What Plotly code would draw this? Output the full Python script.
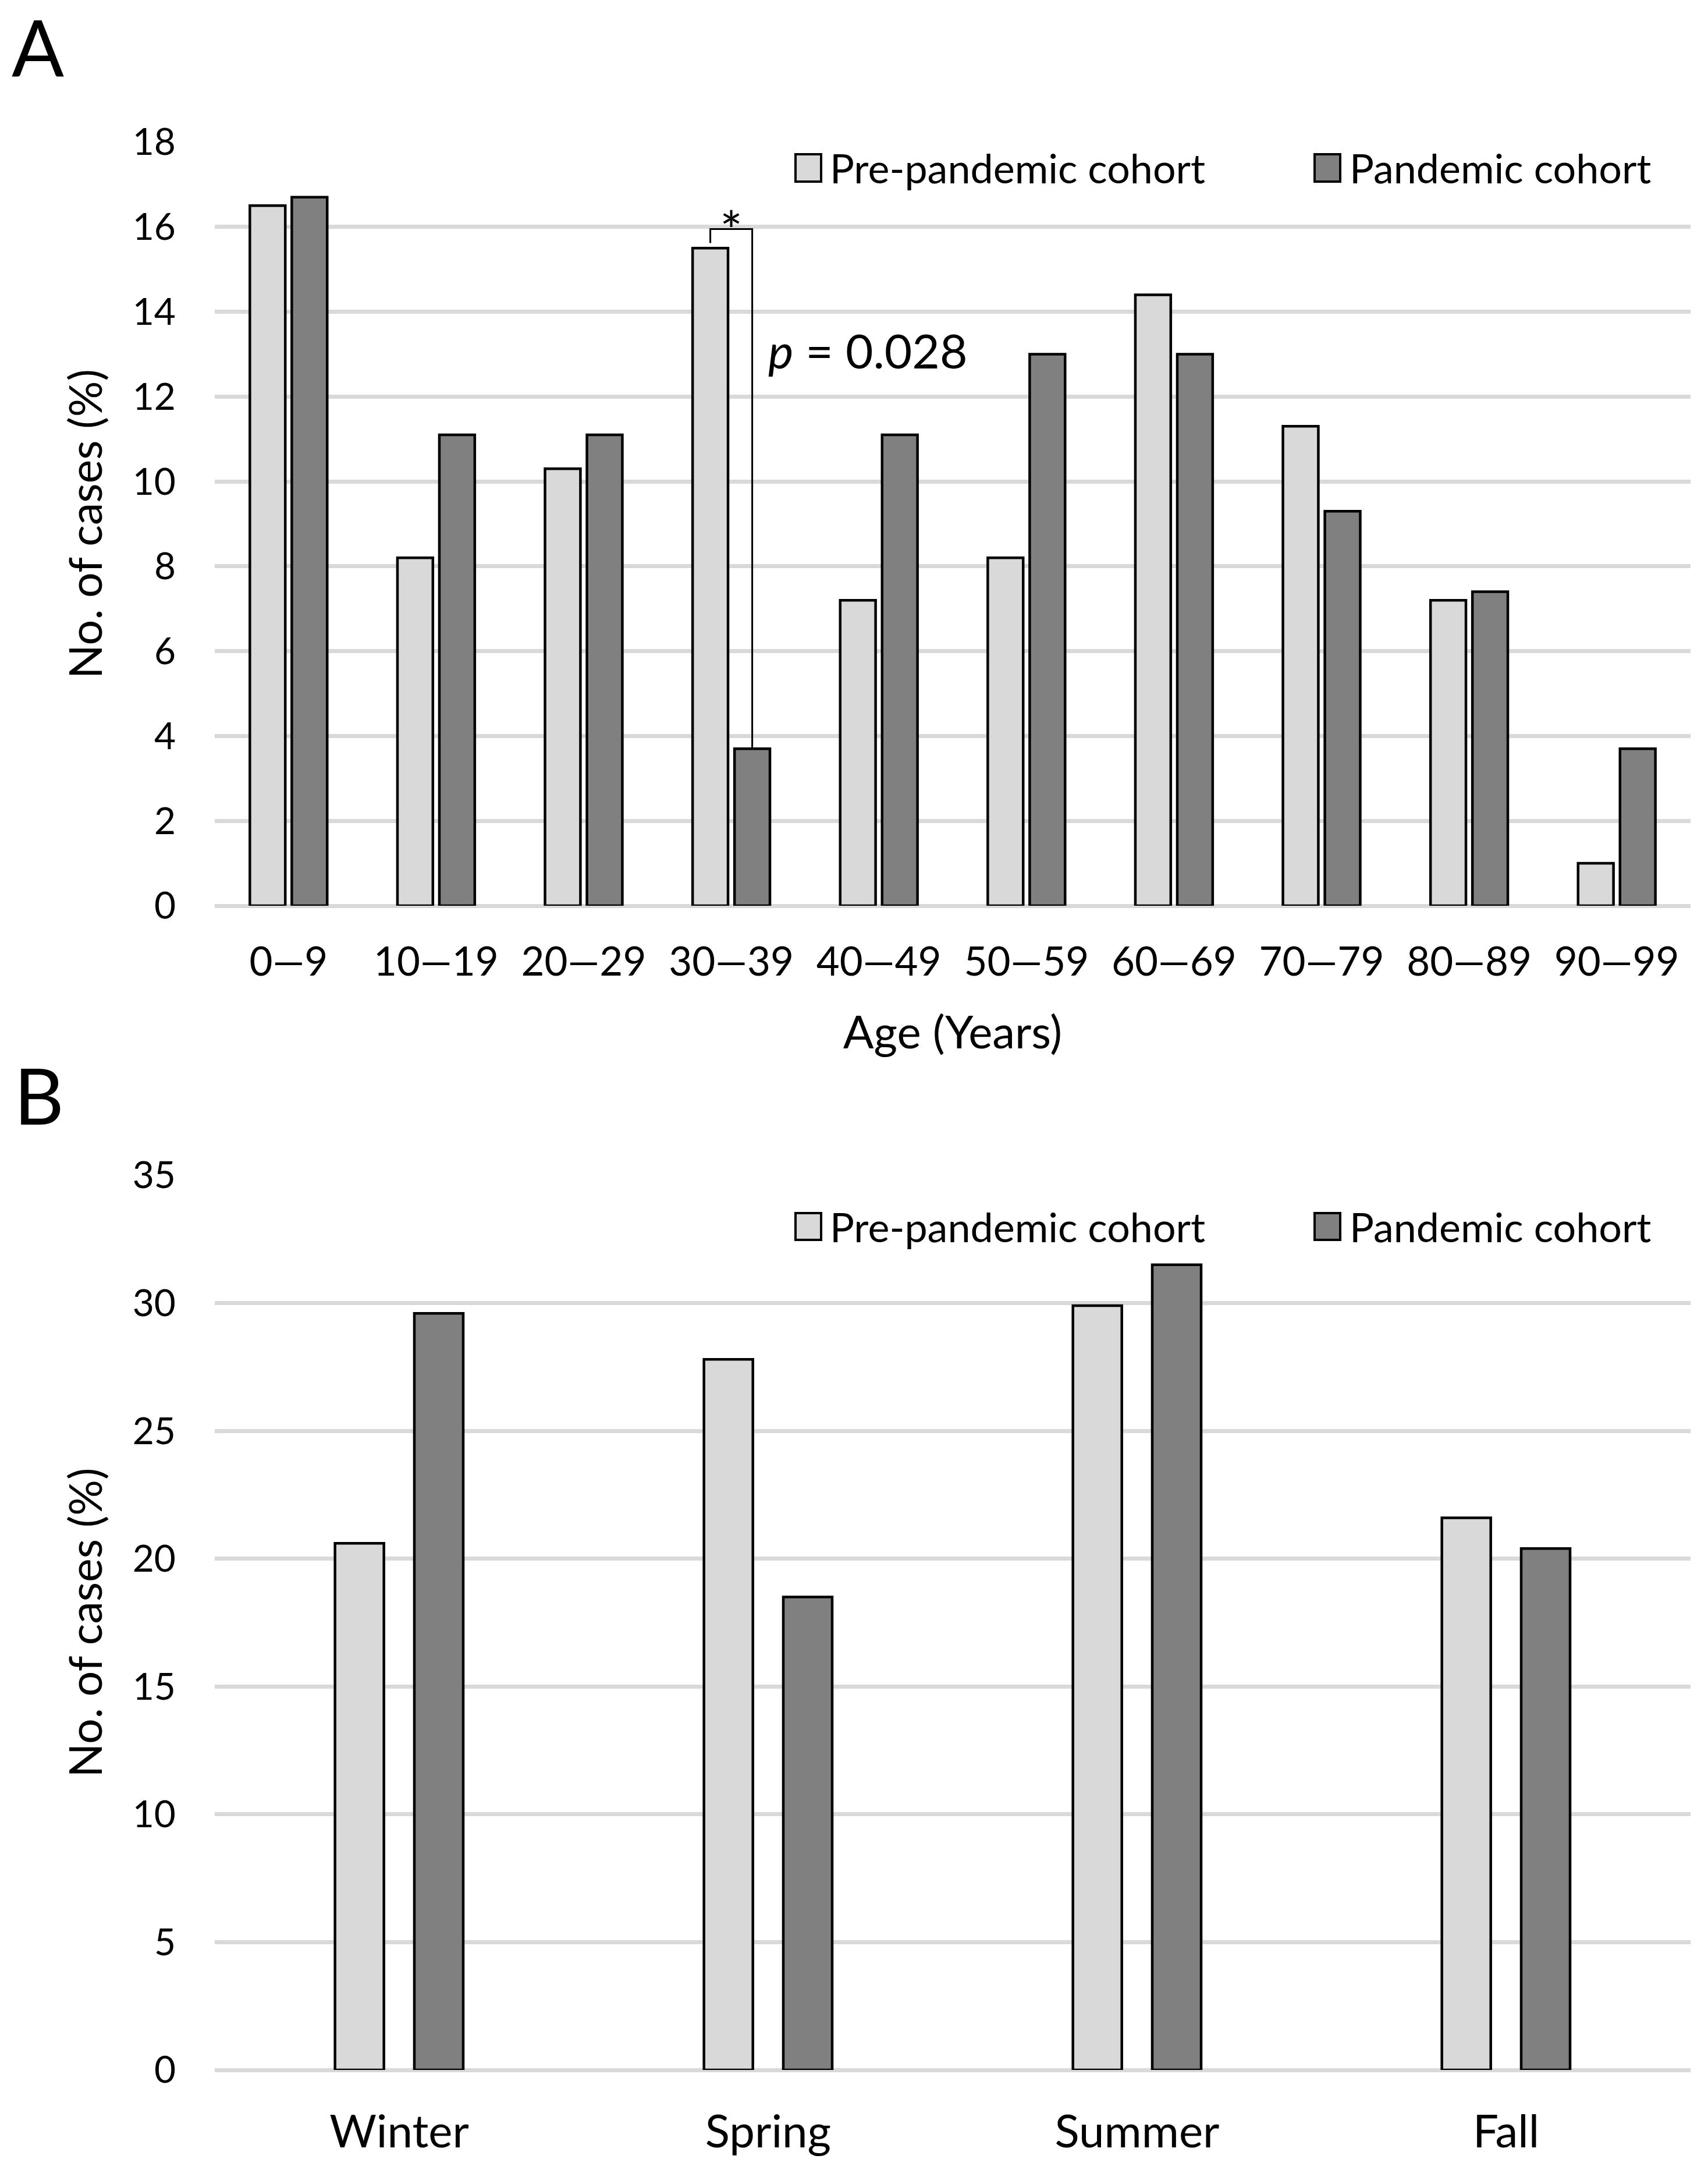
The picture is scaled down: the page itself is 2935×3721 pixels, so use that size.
import plotly.graph_objects as go

# ---------------- data ----------------
age_groups = ["0—9", "10—19", "20—29", "30—39", "40—49",
              "50—59", "60—69", "70—79", "80—89", "90—99"]
age_pre = [16.5, 8.2, 10.3, 15.5, 7.2, 8.2, 14.4, 11.3, 7.2, 1.0]
age_pan = [16.7, 11.1, 11.1, 3.7, 11.1, 13.0, 13.0, 9.3, 7.4, 3.7]

seasons = ["Winter", "Spring", "Summer", "Fall"]
season_pre = [20.6, 27.8, 29.9, 21.6]
season_pan = [29.6, 18.5, 31.5, 20.4]

series_names = ["Pre-pandemic cohort", "Pandemic cohort"]
p_label = "<i>p</i> = 0.028"
sig_group = "30—39"

# ---------------- style ----------------
W, H = 2935, 3721
FONT = "Lato"
PRE_COLOR = "#d9d9d9"
PAN_COLOR = "#808080"
GRID = "#d9d9d9"


def px(x):
    return x / W


def py(y):
    return 1 - y / H


A_W, A_OFF_PRE, A_OFF_PAN = 0.24, -0.262, 0.022
B_W, B_OFF_PRE, B_OFF_PAN = 0.1325, -0.174, 0.041

fig = go.Figure()

fig.add_trace(go.Bar(x=age_groups, y=age_pre, name=series_names[0], width=A_W, offset=A_OFF_PRE,
                     marker=dict(color=PRE_COLOR, line=dict(color="black", width=4.5)),
                     xaxis="x", yaxis="y", showlegend=False))
fig.add_trace(go.Bar(x=age_groups, y=age_pan, name=series_names[1], width=A_W, offset=A_OFF_PAN,
                     marker=dict(color=PAN_COLOR, line=dict(color="black", width=4.5)),
                     xaxis="x", yaxis="y", showlegend=False))
fig.add_trace(go.Bar(x=seasons, y=season_pre, name=series_names[0], width=B_W, offset=B_OFF_PRE,
                     marker=dict(color=PRE_COLOR, line=dict(color="black", width=4.5)),
                     xaxis="x2", yaxis="y2", showlegend=False))
fig.add_trace(go.Bar(x=seasons, y=season_pan, name=series_names[1], width=B_W, offset=B_OFF_PAN,
                     marker=dict(color=PAN_COLOR, line=dict(color="black", width=4.5)),
                     xaxis="x2", yaxis="y2", showlegend=False))

xdom = [px(369), px(2905)]
ydomA = [py(1556), py(244)]
ydomB = [py(3556), py(2019)]

common_y = dict(showgrid=True, gridcolor=GRID, gridwidth=7, zeroline=True, zerolinecolor=GRID,
                zerolinewidth=7, showline=False, ticks="", ticklabelstandoff=66, automargin=False,
                tickfont=dict(family=FONT, size=64, color="black"))
common_x = dict(showgrid=False, zeroline=False, showline=False, ticks="", type="category",
                automargin=False)

fig.update_layout(
    template="none",
    width=W, height=H, margin=dict(l=0, r=0, t=0, b=0, pad=0, autoexpand=False),
    paper_bgcolor="white", plot_bgcolor="white", barmode="overlay",
    font=dict(family=FONT, color="black"),
    xaxis=dict(domain=xdom, anchor="y", tickfont=dict(family=FONT, size=69, color="black"),
               ticklabelstandoff=50,
               title=dict(text="Age (Years)", font=dict(family=FONT, size=78, color="black"), standoff=56),
               **common_x),
    yaxis=dict(domain=ydomA, anchor="x", range=[0, 18], dtick=2,
               title=dict(text="No. of cases (%)", font=dict(family=FONT, size=77, color="black"), standoff=26),
               **common_y),
    xaxis2=dict(domain=xdom, anchor="y2", tickfont=dict(family=FONT, size=78, color="black"),
                ticklabelstandoff=54, **common_x),
    yaxis2=dict(domain=ydomB, anchor="x2", range=[0, 35], dtick=5,
                title=dict(text="No. of cases (%)", font=dict(family=FONT, size=77, color="black"), standoff=26),
                **common_y),
)

# ---------------- significance bracket (panel A) ----------------
gi = age_groups.index(sig_group)
x_left = gi + A_OFF_PRE + A_W / 2
x_right = gi + A_OFF_PAN + A_W / 2
y_top = max(age_pre[gi], age_pan[gi]) + 0.45
fig.add_shape(type="path", xref="x", yref="y",
              path=f"M {x_left},{age_pre[gi] + 0.12} L {x_left},{y_top} L {x_right},{y_top} L {x_right},{age_pan[gi]}",
              line=dict(color="black", width=3))
fig.add_annotation(x=gi, y=y_top, xref="x", yref="y", text="*", showarrow=False,
                   xanchor="center", yanchor="middle", font=dict(family=FONT, size=92, color="black"))
fig.add_annotation(x=x_right + 0.1, y=13.1, xref="x", yref="y", text=p_label, showarrow=False,
                   xanchor="left", yanchor="middle", font=dict(family=FONT, size=82, color="black"))

# ---------------- legends (manual, large swatches) ----------------
def add_legend(y_top_px, y_bot_px):
    items = [(1367, 1411, 1424, PRE_COLOR, series_names[0]),
             (2259, 2303, 2317, PAN_COLOR, series_names[1])]
    for x0, x1, xt, col, label in items:
        fig.add_shape(type="rect", xref="paper", yref="paper", x0=px(x0), x1=px(x1),
                      y0=py(y_bot_px), y1=py(y_top_px), fillcolor=col,
                      line=dict(color="black", width=4))
        fig.add_annotation(x=px(xt), y=py((y_top_px + y_bot_px) / 2), xref="paper", yref="paper",
                           text=label, showarrow=False, xanchor="left", yanchor="middle",
                           font=dict(family=FONT, size=70, color="black"))


add_legend(265, 312)
add_legend(2084, 2130)

# ---------------- panel letters ----------------
fig.add_annotation(x=px(18), y=py(79), xref="paper", yref="paper", text="A", showarrow=False,
                   xanchor="left", yanchor="middle", font=dict(family=FONT, size=133, color="black"))
fig.add_annotation(x=px(22), y=py(1880), xref="paper", yref="paper", text="B", showarrow=False,
                   xanchor="left", yanchor="middle", font=dict(family=FONT, size=133, color="black"))

fig.write_html("out.html", config={"displayModeBar": False},
               post_script="document.body.style.margin='0px';")
